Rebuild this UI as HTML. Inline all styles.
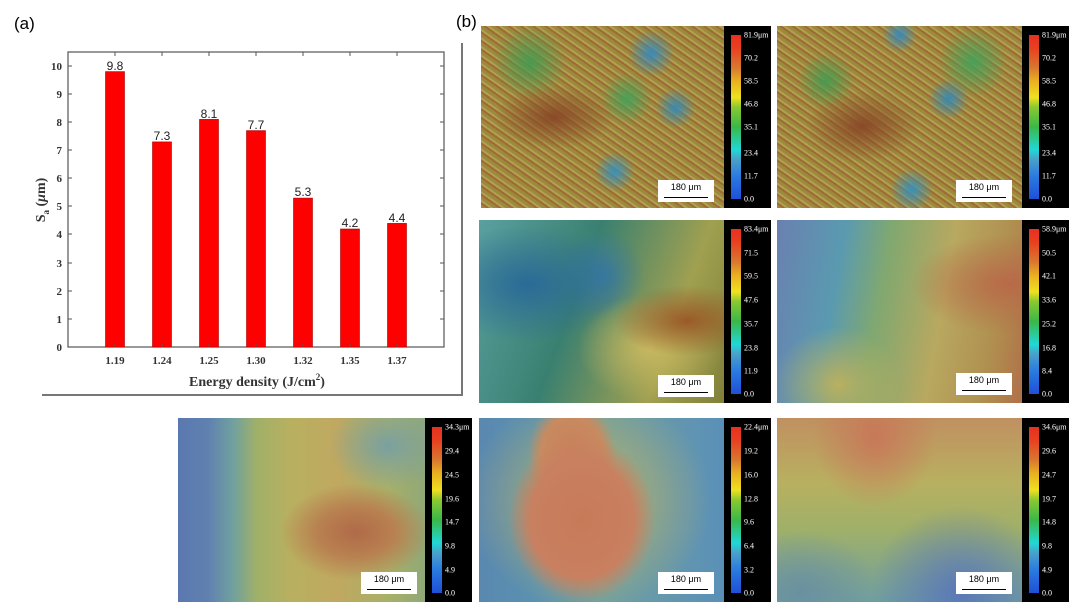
<!DOCTYPE html>
<html><head><meta charset="utf-8"><style>
body{margin:0;width:1080px;height:612px;background:#fff;position:relative;overflow:hidden;font-family:"Liberation Sans",sans-serif}
.abs{position:absolute}
.img{position:absolute;overflow:hidden}
.cb{position:absolute;background:#000}
.cb .bar{position:absolute;left:7px;top:9px;bottom:9px;width:10px;background:linear-gradient(to top,#1f4fd8 0%,#2a7be0 14%,#4aa0c8 24%,#20d8d8 30%,#3ab848 44%,#8ac830 56%,#f0e020 62%,#e8b020 72%,#d87830 80%,#e84020 92%,#e83020 100%)}
.cb span{position:absolute;left:20px;color:#fff;font-size:8px;font-family:"Liberation Serif",serif;transform:translateY(-50%)}
.sb{position:absolute;background:#fff;width:56px;height:22px;font-size:9px;text-align:center;line-height:15px;color:#000}
.sb i{position:absolute;left:6px;right:6px;bottom:4px;height:1.5px;background:#000}
</style></head><body>
<div class="abs" style="left:14px;top:14px;font-size:17px">(a)</div>
<div class="abs" style="left:456px;top:12px;font-size:17px">(b)</div>
<div class="abs" style="left:42px;top:394px;width:420px;height:2px;background:#777"></div>
<div class="abs" style="left:461px;top:43px;width:2px;height:353px;background:#777"></div>
<svg class="abs" style="left:0;top:0" width="470" height="400" font-family="Liberation Serif,serif">
<rect x="68" y="52" width="376" height="295" fill="none" stroke="#555" stroke-width="1.2"/>
<g fill="#ff0000" stroke="#a00" stroke-width="0.6">
<rect x="105.5" y="71.6" width="19" height="275.4"/>
<rect x="152.5" y="141.9" width="19" height="205.1"/>
<rect x="199.5" y="119.4" width="19" height="227.6"/>
<rect x="246.5" y="130.6" width="19" height="216.4"/>
<rect x="293.5" y="198.1" width="19" height="148.9"/>
<rect x="340.5" y="229" width="19" height="118"/>
<rect x="387.5" y="223.4" width="19" height="123.6"/>
</g>
<g font-family="Liberation Sans,sans-serif" font-size="12" text-anchor="middle" fill="#222">
<text x="115" y="70">9.8</text><text x="162" y="140">7.3</text><text x="209" y="118">8.1</text><text x="256" y="129">7.7</text><text x="303" y="196">5.3</text><text x="350" y="227">4.2</text><text x="397" y="222">4.4</text>
</g>
<g font-size="11" font-weight="bold" text-anchor="end" fill="#333">
<text x="62" y="351">0</text><text x="62" y="323">1</text><text x="62" y="295">2</text><text x="62" y="267">3</text><text x="62" y="238">4</text><text x="62" y="210">5</text><text x="62" y="182">6</text><text x="62" y="154">7</text><text x="62" y="126">8</text><text x="62" y="98">9</text><text x="62" y="70">10</text>
</g>
<g stroke="#555"><path d="M68 319h4M68 291h4M68 263h4M68 234h4M68 206h4M68 178h4M68 150h4M68 122h4M68 94h4M68 66h4M444 319h-4M444 291h-4M444 263h-4M444 234h-4M444 206h-4M444 178h-4M444 150h-4M444 122h-4M444 94h-4M444 66h-4M115 347v-4M162 347v-4M209 347v-4M256 347v-4M303 347v-4M350 347v-4M397 347v-4M115 52v4M162 52v4M209 52v4M256 52v4M303 52v4M350 52v4M397 52v4"/></g>
<g font-size="11" font-weight="bold" text-anchor="middle" fill="#333">
<text x="115" y="364">1.19</text><text x="162" y="364">1.24</text><text x="209" y="364">1.25</text><text x="256" y="364">1.30</text><text x="303" y="364">1.32</text><text x="350" y="364">1.35</text><text x="397" y="364">1.37</text>
</g>
<text x="257" y="386" font-size="14" font-weight="bold" text-anchor="middle" fill="#333">Energy density (J/cm<tspan dy="-6" font-size="9">2</tspan><tspan dy="6">)</tspan></text>
<text transform="translate(45,200) rotate(-90)" font-size="14" font-weight="bold" text-anchor="middle" fill="#333">S<tspan dy="4" font-size="9">a</tspan><tspan dy="-4"> (</tspan><tspan font-style="italic">μ</tspan>m)</text>
</svg>

<div class="img" style="left:481px;top:26px;width:243px;height:182px;background:radial-gradient(circle at 70% 15%,#3a8ab8 0,transparent 10%),radial-gradient(circle at 55% 80%,#3a90b8 0,transparent 10%),radial-gradient(circle at 80% 45%,#3a8ab0 0,transparent 9%),radial-gradient(ellipse at 30% 50%,#8a4a28 0,transparent 25%),radial-gradient(circle at 20% 20%,#4a9a50 0,transparent 15%),radial-gradient(circle at 60% 40%,#4aa058 0,transparent 14%),repeating-linear-gradient(35deg,#9a8a3a 0 3px,#a06a38 3px 5px,#b0a050 5px 7px);"></div>
<div class="cb" style="left:724px;top:26px;width:47px;height:182px"><div class="bar"></div><span style="top:9px">81.9μm</span><span style="top:32px">70.2</span><span style="top:55px">58.5</span><span style="top:78px">46.8</span><span style="top:101px">35.1</span><span style="top:127px">23.4</span><span style="top:150px">11.7</span><span style="top:173px">0.0</span></div>
<div class="sb" style="left:658px;top:180px">180 μm<i></i></div>

<div class="img" style="left:777px;top:26px;width:245px;height:182px;background:radial-gradient(circle at 50% 5%,#3a8ab8 0,transparent 8%),radial-gradient(circle at 55% 90%,#3a90b8 0,transparent 10%),radial-gradient(circle at 70% 40%,#3a8ab0 0,transparent 10%),radial-gradient(ellipse at 35% 55%,#8a4a28 0,transparent 25%),radial-gradient(circle at 80% 20%,#4aa058 0,transparent 14%),radial-gradient(circle at 20% 30%,#4a9a50 0,transparent 12%),repeating-linear-gradient(35deg,#9a8a3a 0 3px,#a06a38 3px 5px,#b0a050 5px 7px);"></div>
<div class="cb" style="left:1022px;top:26px;width:47px;height:182px"><div class="bar"></div><span style="top:9px">81.9μm</span><span style="top:32px">70.2</span><span style="top:55px">58.5</span><span style="top:78px">46.8</span><span style="top:101px">35.1</span><span style="top:127px">23.4</span><span style="top:150px">11.7</span><span style="top:173px">0.0</span></div>
<div class="sb" style="left:956px;top:180px">180 μm<i></i></div>

<div class="img" style="left:479px;top:220px;width:245px;height:183px;background:radial-gradient(ellipse at 85% 55%,#9a5a28 0,transparent 25%),radial-gradient(ellipse at 70% 70%,#c8b860 0,transparent 30%),radial-gradient(ellipse at 20% 35%,#2a6a98 0,transparent 35%),radial-gradient(ellipse at 50% 30%,#3a7aa0 0,transparent 25%),linear-gradient(110deg,#5aa0a0 0%,#3a8070 40%,#a0a050 75%,#80803a 100%);"></div>
<div class="cb" style="left:724px;top:220px;width:47px;height:183px"><div class="bar"></div><span style="top:9px">83.4μm</span><span style="top:33px">71.5</span><span style="top:56px">59.5</span><span style="top:80px">47.6</span><span style="top:104px">35.7</span><span style="top:128px">23.8</span><span style="top:151px">11.9</span><span style="top:174px">0.0</span></div>
<div class="sb" style="left:658px;top:375px">180 μm<i></i></div>

<div class="img" style="left:777px;top:220px;width:245px;height:183px;background:radial-gradient(ellipse at 95% 35%,#b86a48 0,transparent 30%),radial-gradient(ellipse at 25% 90%,#b8b060 0,transparent 25%),linear-gradient(100deg,#6a80b0 0%,#5a9ab0 25%,#80a870 42%,#b8a860 65%,#b09050 85%,#b07048 100%);"></div>
<div class="cb" style="left:1022px;top:220px;width:47px;height:183px"><div class="bar"></div><span style="top:9px">58.9μm</span><span style="top:33px">50.5</span><span style="top:56px">42.1</span><span style="top:80px">33.6</span><span style="top:104px">25.2</span><span style="top:128px">16.8</span><span style="top:151px">8.4</span><span style="top:174px">0.0</span></div>
<div class="sb" style="left:956px;top:373px">180 μm<i></i></div>

<div class="img" style="left:178px;top:418px;width:247px;height:184px;background:radial-gradient(ellipse at 72% 62%,#b06a48 0,#b88050 15%,transparent 30%),radial-gradient(ellipse at 85% 15%,#7aa0a0 0,transparent 20%),linear-gradient(90deg,#5a78b0 0%,#6080b0 12%,#70a0a0 22%,#a0b068 32%,#b8b060 45%,#c0a860 65%,#a8b068 85%,#90a878 100%);"></div>
<div class="cb" style="left:425px;top:418px;width:47px;height:184px"><div class="bar"></div><span style="top:9px">34.3μm</span><span style="top:33px">29.4</span><span style="top:57px">24.5</span><span style="top:81px">19.6</span><span style="top:104px">14.7</span><span style="top:128px">9.8</span><span style="top:152px">4.9</span><span style="top:175px">0.0</span></div>
<div class="sb" style="left:361px;top:572px">180 μm<i></i></div>

<div class="img" style="left:479px;top:418px;width:245px;height:184px;background:radial-gradient(ellipse 30% 45% at 42% 55%,#c87a58 0,#c88060 70%,transparent 100%),radial-gradient(ellipse 18% 30% at 38% 20%,#c8805a 0,#c88a60 70%,transparent 100%),radial-gradient(ellipse 50% 60% at 45% 45%,#b8b068 0,transparent 100%),linear-gradient(90deg,#5a88b0 0%,#5a90b0 20%,#70a0a0 50%,#5a90b8 100%);"></div>
<div class="cb" style="left:724px;top:418px;width:47px;height:184px"><div class="bar"></div><span style="top:9px">22.4μm</span><span style="top:33px">19.2</span><span style="top:57px">16.0</span><span style="top:81px">12.8</span><span style="top:104px">9.6</span><span style="top:128px">6.4</span><span style="top:152px">3.2</span><span style="top:175px">0.0</span></div>
<div class="sb" style="left:658px;top:572px">180 μm<i></i></div>

<div class="img" style="left:777px;top:418px;width:245px;height:184px;background:radial-gradient(ellipse at 40% 10%,#c87858 0,transparent 30%),radial-gradient(ellipse at 75% 95%,#5a78b8 0,transparent 35%),radial-gradient(ellipse at 10% 95%,#6a90a0 0,transparent 25%),linear-gradient(180deg,#c09060 0%,#b8b060 35%,#a0b068 60%,#70a0a0 100%);"></div>
<div class="cb" style="left:1022px;top:418px;width:47px;height:184px"><div class="bar"></div><span style="top:9px">34.6μm</span><span style="top:33px">29.6</span><span style="top:57px">24.7</span><span style="top:81px">19.7</span><span style="top:104px">14.8</span><span style="top:128px">9.8</span><span style="top:152px">4.9</span><span style="top:175px">0.0</span></div>
<div class="sb" style="left:956px;top:572px">180 μm<i></i></div>
</body></html>
